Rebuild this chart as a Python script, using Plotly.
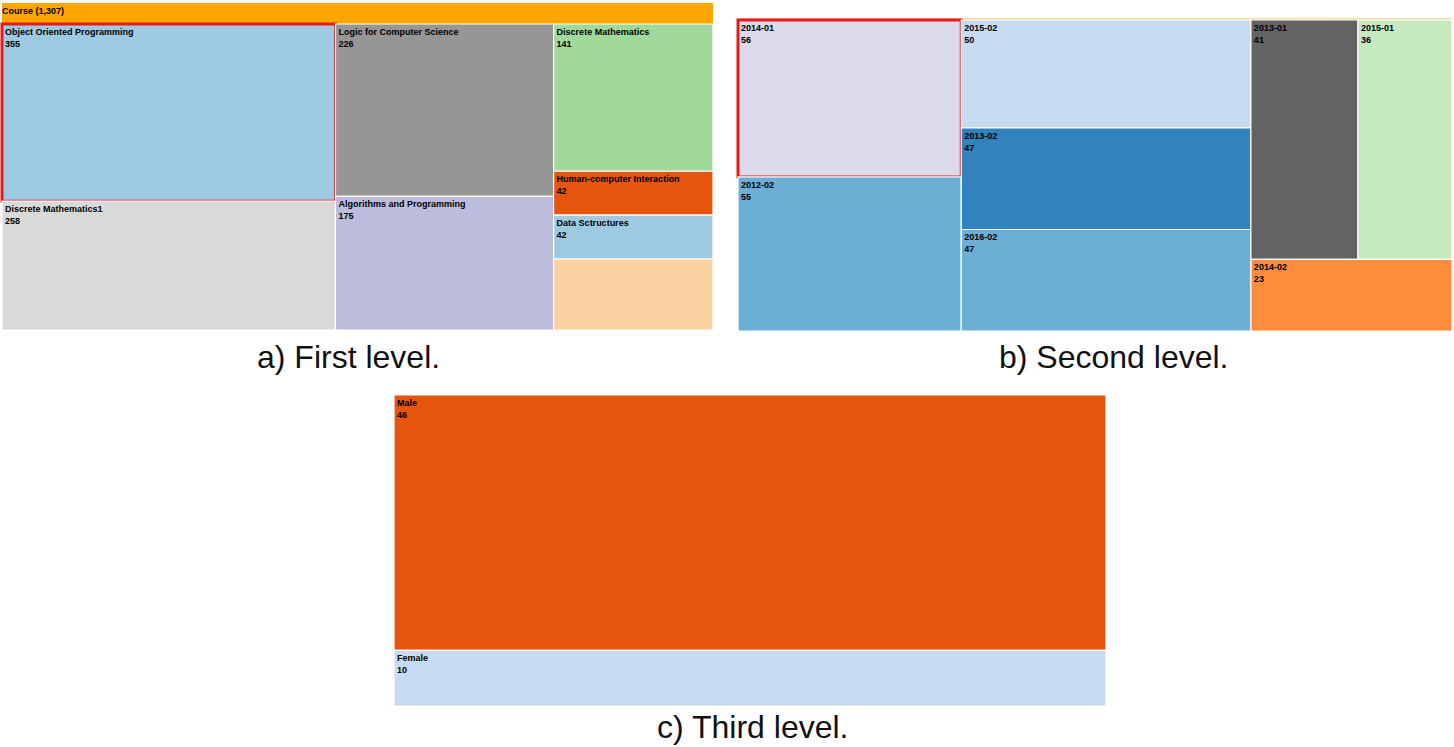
import plotly.graph_objects as go

# a) first level: courses
courses = ["Object Oriented Programming", "Discrete Mathematics1", "Logic for Computer Science",
           "Algorithms and Programming", "Discrete Mathematics", "Human-computer Interaction",
           "Data Sctructures", "Other"]
course_counts = [355, 258, 226, 175, 141, 42, 42, 68]
course_colors = ["#9ecae1", "#d9d9d9", "#969696", "#bcbddc", "#a1d99b", "#e6550d", "#9ecae1", "#fdd0a2"]
course_show_label = [True, True, True, True, True, True, True, False]

# b) second level: semesters of Object Oriented Programming
semesters = ["2014-01", "2012-02", "2015-02", "2013-02", "2016-02", "2013-01", "2015-01", "2014-02"]
semester_counts = [56, 55, 50, 47, 47, 41, 36, 23]
semester_colors = ["#dadaeb", "#6baed6", "#c6dbef", "#3182bd", "#6baed6", "#636363", "#c7e9c0", "#fd8d3c"]

# c) third level: gender for 2014-01
genders = ["Male", "Female"]
gender_counts = [46, 10]
gender_colors = ["#e6550d", "#c6dbef"]

SELECTED_COURSE = "Object Oriented Programming"
SELECTED_SEMESTER = "2014-01"

W, H = 1454, 747
FONT = "Liberation Sans, Arial, sans-serif"


def treemap(root, root_color, labels, values, colors, selected=None, show=None,
            packing="squarify", pad_top=0, show_root=False, domain=None):
    show = show or [True] * len(labels)
    templates = ["<b>%{label}</b>" if show_root else " "] + \
                ["<b>%{label}<br>%{value}</b>" if s else " " for s in show]
    line_colors = ["white"] + ["#e41a1c" if l == selected else "white" for l in labels]
    line_widths = [0] + [3 if l == selected else 1.2 for l in labels]
    return go.Treemap(
        labels=[root] + labels,
        parents=[""] + [root] * len(labels),
        values=[sum(values)] + values,
        branchvalues="total",
        sort=False,
        texttemplate=templates,
        textposition="top left",
        textfont=dict(family=FONT, size=9, color="black"),
        hoverinfo="label+value",
        marker=dict(colors=[root_color] + colors,
                    line=dict(color=line_colors, width=line_widths),
                    pad=dict(t=pad_top, l=0, r=0, b=0)),
        tiling=dict(packing=packing, squarifyratio=2.1, pad=0),
        pathbar=dict(visible=False),
        domain=domain,
    )


fig = go.Figure()

fig.add_trace(treemap(f"<b>Course ({sum(course_counts):,})</b>", "#ffa500",
                      courses, course_counts, course_colors, selected=SELECTED_COURSE,
                      show=course_show_label, pad_top=21, show_root=True,
                      domain=dict(x=[2 / W, 713 / W], y=[1 - 330 / H, 1 - 3 / H])))

fig.add_trace(treemap(SELECTED_COURSE, "#fdd9a0",
                      semesters, semester_counts, semester_colors, selected=SELECTED_SEMESTER,
                      pad_top=2,
                      domain=dict(x=[738 / W, 1452 / W], y=[1 - 331 / H, 1 - 18 / H])))

fig.add_trace(treemap(SELECTED_SEMESTER, "#f0f0f0",
                      genders, gender_counts, gender_colors, packing="slice",
                      pad_top=0,
                      domain=dict(x=[394 / W, 1106 / W], y=[1 - 706 / H, 1 - 395 / H])))

captions = [("a) First level.", 348, 357), ("b) Second level.", 1113, 357), ("c) Third level.", 752, 727)]
for text, cx, cy in captions:
    fig.add_annotation(text=text, x=cx / W, y=1 - cy / H, xref="paper", yref="paper",
                       showarrow=False, xanchor="center", yanchor="middle",
                       font=dict(family=FONT, size=32, color="#111"))

fig.update_layout(width=W, height=H, margin=dict(l=0, r=0, t=0, b=0),
                  paper_bgcolor="white", plot_bgcolor="white", showlegend=False,
                  uniformtext=dict(minsize=9, mode="show"))

fig.write_html("out.html", config={"displayModeBar": False},
               post_script="document.body.style.margin = '0px';")
